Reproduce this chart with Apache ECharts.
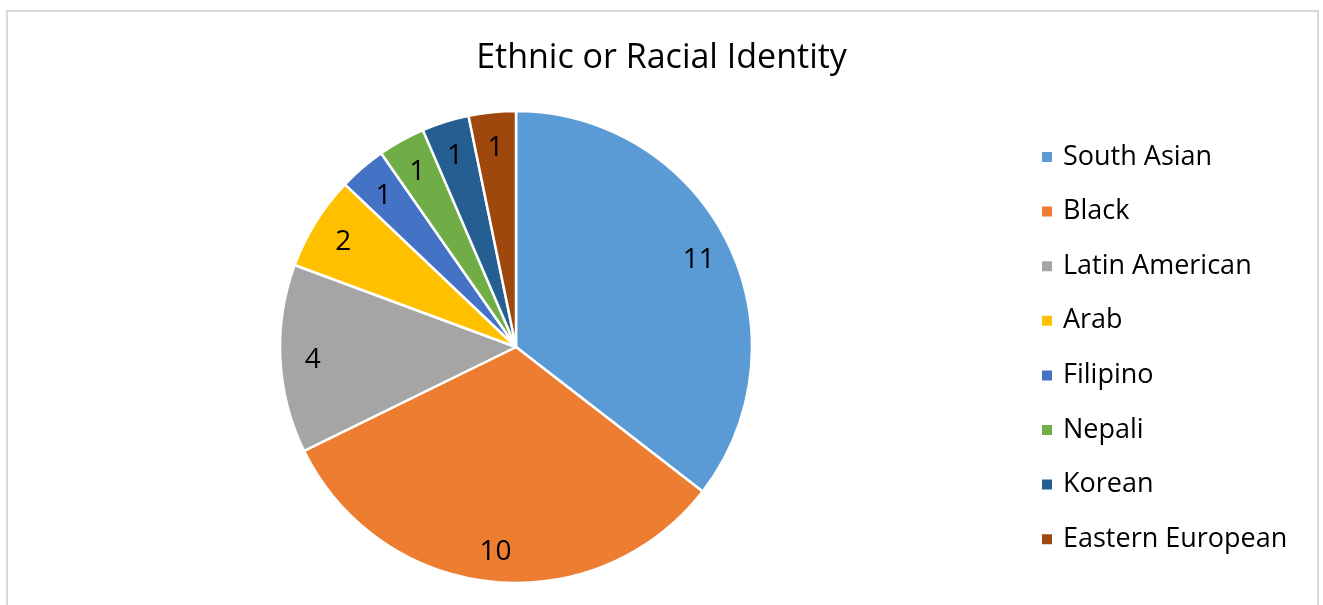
<!DOCTYPE html>
<html>
<head>
<meta charset="utf-8">
<script src="https://cdn.jsdelivr.net/npm/echarts@6/dist/echarts.min.js"></script>
<style>
html,body{margin:0;padding:0;background:#fff;}
#chart{width:1323px;height:605px;}
</style>
</head>
<body>
<div id="chart"></div>
<script>
const titleText = 'Ethnic or Racial Identity';
const categories = ['South Asian','Black','Latin American','Arab','Filipino','Nepali','Korean','Eastern European'];
const values = [11,10,4,2,1,1,1,1];
const colors = ['#5B9BD5','#ED7D31','#A5A5A5','#FFC000','#4472C4','#70AD47','#255E91','#9E480E'];

const FONT = '"Open Sans", "Liberation Sans", sans-serif';
const pieData = categories.map((c,i)=>({name:c, value:values[i], itemStyle:{color:colors[i]}}));
const labelData = categories.map((c,i)=>({name:c, value:values[i]}));

const chart = echarts.init(document.getElementById('chart'), null, {renderer:'canvas'});
chart.setOption({
  animation:false,
  backgroundColor:'#ffffff',
  graphic:[{
    type:'rect', z:-1, silent:true,
    shape:{x:7, y:11, width:1311, height:700},
    style:{fill:'none', stroke:'#D9D9D9', lineWidth:2}
  }],
  title:{
    text:titleText, left:'center', top:41, padding:0,
    textStyle:{fontFamily:FONT, fontSize:34, fontWeight:'normal', color:'#000'}
  },
  legend:{
    orient:'vertical', left:1035, top:137,
    itemWidth:12, itemHeight:12, itemGap:24.6,
    icon:'rect',
    data:categories,
    textStyle:{fontFamily:FONT, fontSize:27, color:'#000', lineHeight:30, padding:[0,0,0,5]}
  },
  series:[{
    type:'pie', center:[516,347], radius:[0,236],
    startAngle:90, clockwise:true,
    data:pieData,
    itemStyle:{borderColor:'#fff', borderWidth:2.5},
    label:{show:false}, labelLine:{show:false},
    emphasis:{disabled:true}
  },{
    type:'pie', center:[516,350], radius:[165,236],
    startAngle:90, clockwise:true, silent:true,
    data:labelData,
    itemStyle:{color:'rgba(0,0,0,0)', borderWidth:0},
    label:{show:true, position:'inside', formatter:'{c}', fontFamily:FONT, fontSize:28, color:'#000'},
    labelLine:{show:false},
    emphasis:{disabled:true}
  }]
});
</script>
</body>
</html>
